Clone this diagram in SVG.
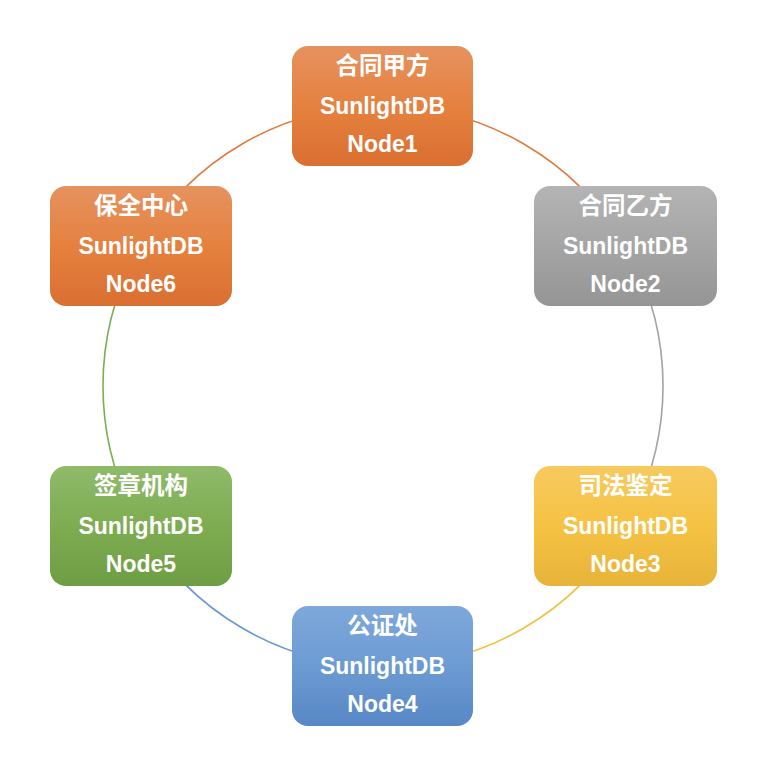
<svg xmlns="http://www.w3.org/2000/svg" width="776" height="778" viewBox="0 0 776 778">
<style>
.t{font-family:"Liberation Sans","Noto Sans CJK SC",Arial,sans-serif;font-weight:bold;font-size:23px;fill:#ffffff;text-anchor:middle}
.h{font-size:23.5px}
.c{fill:none;stroke-width:1.6}
</style>
<defs>
<linearGradient id="gO" x1="0" y1="0" x2="0" y2="1"><stop offset="0" stop-color="#E6925F"/><stop offset="0.5" stop-color="#E5813F"/><stop offset="1" stop-color="#D96F31"/></linearGradient>
<linearGradient id="gG" x1="0" y1="0" x2="0" y2="1"><stop offset="0" stop-color="#B4B4B4"/><stop offset="0.5" stop-color="#A5A5A5"/><stop offset="1" stop-color="#959595"/></linearGradient>
<linearGradient id="gY" x1="0" y1="0" x2="0" y2="1"><stop offset="0" stop-color="#F7CA5E"/><stop offset="0.5" stop-color="#F6C243"/><stop offset="1" stop-color="#E6B43A"/></linearGradient>
<linearGradient id="gB" x1="0" y1="0" x2="0" y2="1"><stop offset="0" stop-color="#7EA8DA"/><stop offset="0.5" stop-color="#6C9BD3"/><stop offset="1" stop-color="#5787C5"/></linearGradient>
<linearGradient id="gN" x1="0" y1="0" x2="0" y2="1"><stop offset="0" stop-color="#8FBB6A"/><stop offset="0.5" stop-color="#7DAC51"/><stop offset="1" stop-color="#6E9D44"/></linearGradient>
</defs>
<rect width="776" height="778" fill="#ffffff"/>
<g id="connectors">
<path class="c" stroke="#E07B3E" d="M 383 106 A 280 280 0 0 1 625.5 246"/>
<path class="c" stroke="#A3A3A3" d="M 625.5 246 A 280 280 0 0 1 625.5 526"/>
<path class="c" stroke="#F2C040" d="M 625.5 526 A 280 280 0 0 1 383 666"/>
<path class="c" stroke="#6A97CF" d="M 383 666 A 280 280 0 0 1 140.5 526"/>
<path class="c" stroke="#7DAD53" d="M 140.5 526 A 280 280 0 0 1 140.5 246"/>
<path class="c" stroke="#E07B3E" d="M 140.5 246 A 280 280 0 0 1 383 106"/>
</g>
<g id="node1">
<rect x="292" y="46" width="181" height="120" rx="16" fill="url(#gO)"/>
<text class="t h" x="382.5" y="74">合同甲方</text>
<text class="t" x="382.5" y="114">SunlightDB</text>
<text class="t" x="382.5" y="152">Node1</text>
</g>
<g id="node2">
<rect x="534" y="186" width="183" height="120" rx="16" fill="url(#gG)"/>
<text class="t h" x="625.5" y="214">合同乙方</text>
<text class="t" x="625.5" y="254">SunlightDB</text>
<text class="t" x="625.5" y="292">Node2</text>
</g>
<g id="node3">
<rect x="534" y="466" width="183" height="120" rx="16" fill="url(#gY)"/>
<text class="t h" x="625.5" y="494">司法鉴定</text>
<text class="t" x="625.5" y="534">SunlightDB</text>
<text class="t" x="625.5" y="572">Node3</text>
</g>
<g id="node4">
<rect x="292" y="606" width="181" height="120" rx="16" fill="url(#gB)"/>
<text class="t h" x="382.5" y="634">公证处</text>
<text class="t" x="382.5" y="674">SunlightDB</text>
<text class="t" x="382.5" y="712">Node4</text>
</g>
<g id="node5">
<rect x="50" y="466" width="182" height="120" rx="16" fill="url(#gN)"/>
<text class="t h" x="141" y="494">签章机构</text>
<text class="t" x="141" y="534">SunlightDB</text>
<text class="t" x="141" y="572">Node5</text>
</g>
<g id="node6">
<rect x="50" y="186" width="182" height="120" rx="16" fill="url(#gO)"/>
<text class="t h" x="141" y="214">保全中心</text>
<text class="t" x="141" y="254">SunlightDB</text>
<text class="t" x="141" y="292">Node6</text>
</g>
</svg>
